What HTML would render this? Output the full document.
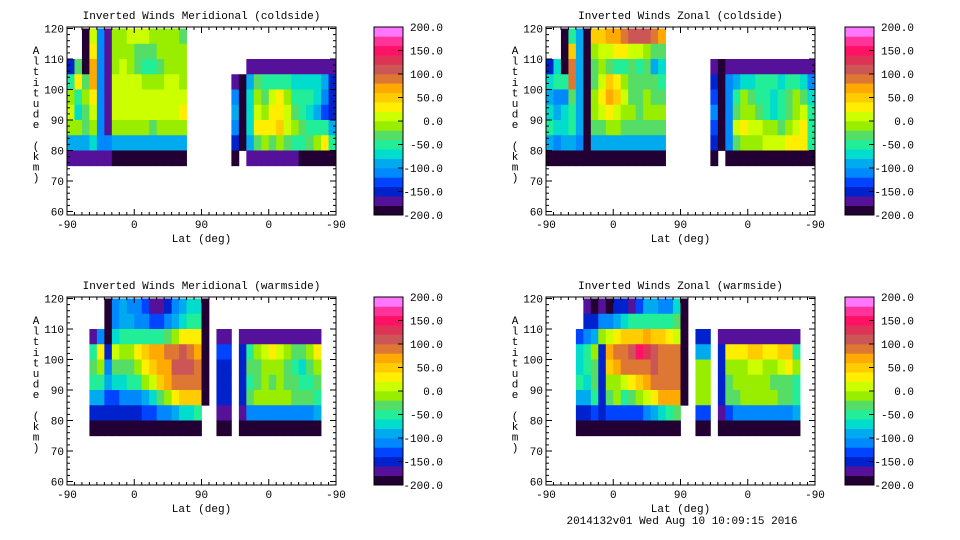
<!DOCTYPE html>
<html><head><meta charset="utf-8">
<style>
html,body{margin:0;padding:0;background:#fff;}
svg{display:block;font-family:"Liberation Mono","DejaVu Sans Mono",monospace;}
</style></head>
<body>
<svg id="fig" width="960" height="540" viewBox="0 0 960 540" xmlns="http://www.w3.org/2000/svg">
<rect width="960" height="540" fill="#fff"/>
<text x="682" y="524" font-size="11" text-anchor="middle" fill="#000">2014132v01 Wed Aug 10 10:09:15 2016</text>
</svg>
<script>
const _ = null;
// colorbar band colors from -200 (index 0) to 200 (index 19)
const bandColors = ["#220033","#551199","#0022cc","#0044ff","#0088ff","#00aaee","#00ddcc","#22ee99","#55dd66","#99ee00","#ccff00","#ffee00","#ffcc00","#ffaa00","#dd7733","#cc5555","#dd3355","#ff1166","#ff3399","#ff77ff"];
const cbLabels = ["200.0","150.0","100.0","50.0","0.0","-50.0","-100.0","-150.0","-200.0"];
const cbValues = [200,150,100,50,0,-50,-100,-150,-200];
const latTicks = ["-90","0","90","0","-90"];
const latTickPos = [0,90,180,270,360];
const altTicks = [120,110,100,90,80,70,60];
const rowAlt = [120,115,110,105,100,95,90,85,80]; // top edge of each 5-km row
const panelTitles = ["Inverted Winds Meridional (coldside)","Inverted Winds Zonal (coldside)","Inverted Winds Meridional (warmside)","Inverted Winds Zonal (warmside)"];

const merCold = [
[_,_,-190,10,-110,-170,-20,-10,0,0,0,-10,-20,-20,-10,-30, _,_,_,_,_,_,_,_, _,_,_,_,_,_,_,_,_,_,_,_],
[_,_,-190,30,-110,-170,-20,-20,-10,-30,-40,-40,-20,-10,-10,-20, _,_,_,_,_,_,_,_, _,_,_,_,_,_,_,_,_,_,_,_],
[-150,-40,-190,60,-110,-170,-10,0,-10,-30,-60,-60,-30,-20,-10,-20, _,_,_,_,_,_,_,_, -170,-170,-170,-170,-170,-170,-170,-170,-170,-170,-170,-170],
[-60,20,-40,60,-110,-170,0,0,10,0,-10,-20,-10,0,0,-20, _,_,_,_,_,_,-180,-200, -90,-40,-60,-50,-50,-60,-80,-80,-70,-80,-100,-150],
[-20,-60,-20,20,-110,-170,0,10,10,10,10,10,10,10,10,0, _,_,_,_,_,_,-120,-200, -80,-10,-30,10,30,-10,-50,-60,-60,-80,-120,-150],
[10,-70,-40,0,-110,-170,0,0,0,10,0,10,0,0,0,20, _,_,_,_,_,_,-100,-200, -70,0,-10,20,20,0,-30,-60,-80,-100,-130,-150],
[-10,-20,-40,-20,-110,-170,-20,-20,-20,-20,-20,-30,-20,-20,-20,-20, _,_,_,_,_,_,-110,-200, -70,20,30,30,40,10,-20,-40,-60,-50,-60,-100],
[-90,-90,-90,-80,-110,-120,-100,-100,-100,-100,-100,-100,-100,-100,-100,-100, _,_,_,_,_,_,-150,-200, -100,-30,-20,-40,-20,-30,-50,-50,-40,-10,30,-60],
[-180,-180,-180,-180,-180,-180,-190,-190,-190,-190,-190,-190,-190,-190,-190,-190, _,_,_,_,_,_,-190,_, -180,-180,-180,-180,-180,-180,-180,-190,-190,-190,-190,-190]
];
const zonCold = [
[_,_,-200,-50,-100,-200,40,50,60,70,80,100,110,100,80,60, _,_,_,_,_,_,_,_, _,_,_,_,_,_,_,_,_,_,_,_],
[_,_,-200,40,-100,-200,-20,0,10,20,20,10,0,-20,-40,-30, _,_,_,_,_,_,_,_, _,_,_,_,_,_,_,_,_,_,_,_],
[-150,-70,-200,80,-100,-200,-40,-20,-30,-60,-60,-40,-60,-40,-90,-70, _,_,_,_,_,_,-170,-200, -170,-170,-170,-170,-170,-170,-170,-170,-170,-170,-170,-170],
[-80,-50,-60,90,-100,-200,-30,10,40,20,-20,-30,-40,-30,-40,-60, _,_,_,_,_,_,-150,-200, -120,-90,-80,-70,-60,-50,-60,-70,-50,-50,-70,-120],
[-100,-120,-110,-40,-100,-200,-20,20,60,40,0,-30,-40,-20,-30,-30, _,_,_,_,_,_,-130,-200, -110,-60,-20,-30,-50,-60,-70,-50,-30,-20,-30,-80],
[-70,-100,-80,-60,-100,-200,-20,0,20,10,-10,-20,-40,-20,-20,-20, _,_,_,_,_,_,-110,-200, -110,-40,-20,-10,-30,-50,-70,-60,-40,-20,10,-60],
[-60,-70,-70,-60,-100,-200,-40,-30,-20,-20,-30,-30,-30,-30,-30,-30, _,_,_,_,_,_,-130,-200, -110,10,20,10,0,-10,-20,-30,-10,10,30,-50],
[-100,-110,-100,-100,-110,-200,-100,-100,-100,-100,-100,-100,-100,-100,-100,-100, _,_,_,_,_,_,-160,-200, -120,-30,-20,-20,-10,0,0,10,20,30,20,-60],
[-190,-190,-190,-190,-190,-190,-190,-190,-190,-190,-190,-190,-190,-190,-190,-190, _,_,_,_,_,_,-190,_, -190,-190,-190,-190,-190,-190,-190,-190,-190,-190,-190,-190]
];
const merWarm = [
[_,_,_,_,_,-200,-110,-100,-110,-110,-130,-170,-180,-150,-120,-100,-80,-80,-200, _,_,_,_, _,_,_,_,_,_,_,_,_,_,_, _,_],
[_,_,_,_,_,-200,-110,-90,-100,-110,-120,-130,-140,-120,-100,-80,-60,-60,-200, _,_,_,_, _,_,_,_,_,_,_,_,_,_,_, _,_],
[_,_,_,-170,-120,-200,-80,-60,-50,-60,-60,-60,-50,-30,-10,20,30,30,-200, _,-180,-180,_, -180,-180,-180,-180,-180,-180,-180,-180,-180,-180,-180, _,_],
[_,_,_,-50,20,-150,0,-10,-10,20,40,60,70,80,90,100,80,60,-200, _,-140,-140,_, -150,-50,-10,0,20,10,-10,-30,-40,-20,20, _,_],
[_,_,_,-40,-10,-120,-40,-30,-40,-10,20,40,60,70,100,110,100,90,-200, _,-150,-150,_, -150,-30,-40,-20,-10,-20,-30,-60,-70,-40,-10, _,_],
[_,_,_,-60,-60,-100,-80,-70,-60,-50,-20,10,40,60,80,90,90,80,-200, _,-150,-150,_, -150,-50,-40,-20,-30,-20,-30,-40,-60,-50,-30, _,_],
[_,_,_,-100,-100,-130,-130,-120,-110,-120,-100,-80,-40,-10,20,50,50,40,-200, _,-150,-150,_, -150,-30,-20,-10,-10,-10,-20,-30,-30,-40,-60, _,_],
[_,_,_,-150,-150,-160,-150,-150,-150,-150,-140,-130,-120,-110,-100,-80,-70,-60,_, _,-170,-170,_, -170,-120,-110,-110,-110,-110,-110,-110,-110,-110,-90, _,_],
[_,_,_,-200,-190,-200,-190,-190,-190,-190,-190,-190,-190,-190,-190,-190,-190,-190,_, _,-190,-190,_, -200,-190,-190,-190,-190,-190,-190,-190,-190,-190,-190, _,_]
];
const zonWarm = [
[_,_,_,_,_,-180,-190,-180,-190,-150,-160,-180,-130,-100,-90,-120,-110,-80,-200, _,_,_,_, _,_,_,_,_,_,_,_,_,_,_, _,_],
[_,_,_,_,_,-150,-160,-120,-110,-100,-80,-60,-50,-50,-60,-60,-50,-40,-200, _,_,_,_, _,_,_,_,_,_,_,_,_,_,_, _,_],
[_,_,_,_,-140,-120,-100,-20,0,20,40,40,40,60,50,40,30,10,-200, _,-150,-150,_, -180,-180,-180,-180,-180,-180,-180,-180,-180,-180,-180, _,_],
[_,_,_,_,-80,-50,-10,-150,70,80,90,110,140,120,100,90,90,90,-200, _,-100,-100,_, -160,20,30,30,40,40,30,30,40,50,-60, _,_],
[_,_,_,_,-70,-60,-40,-150,50,70,80,80,80,90,100,90,80,80,-200, _,-10,-10,_, -160,-10,-10,-10,10,10,-10,-20,10,30,-20, _,_],
[_,_,_,_,-60,-70,-40,-150,-20,-10,0,30,50,70,80,80,90,80,-200, _,-20,-20,_, -160,-30,-20,-10,-10,-10,-20,-40,-30,-40,-60, _,_],
[_,_,_,_,-90,-90,-60,-150,-40,-20,-50,-30,-20,0,30,60,60,70,-200, _,-20,-20,_, -160,-40,-30,-10,-10,-10,-10,-20,-40,-40,-50, _,_],
[_,_,_,_,-150,-150,-140,-160,-140,-130,-130,-130,-130,-120,-100,-80,-60,-40,_, _,-130,-130,_, -170,-130,-120,-120,-120,-120,-120,-120,-120,-110,-100, _,_],
[_,_,_,_,-190,-190,-190,-190,-190,-190,-190,-190,-190,-190,-190,-190,-190,-190,_, _,-190,-190,_, -200,-200,-200,-200,-200,-200,-200,-200,-200,-200,-200, _,_]
];
const grids = [merCold, zonCold, merWarm, zonWarm];
const yTitle = "Altitude (km)";

const NS = "http://www.w3.org/2000/svg";
const svg = document.getElementById("fig");
function mk(tag, attrs, parent){
  const e = document.createElementNS(NS, tag);
  for (const k in attrs) e.setAttribute(k, attrs[k]);
  (parent||svg).appendChild(e);
  return e;
}
function band(v){ let i = Math.floor((v+200)/20); return Math.max(0, Math.min(19, i)); }

const panels = [
  {x0:67, y0:27, cbx:374, title:panelTitles[0]},
  {x0:546, y0:27, cbx:845, title:panelTitles[1]},
  {x0:67, y0:297, cbx:374, title:panelTitles[2]},
  {x0:546, y0:297, cbx:845, title:panelTitles[3]}
];
const PW = 269, PH = 188;

panels.forEach((p, pi) => {
  const xScale = d => p.x0 + d * PW / 360;
  const yScale = a => p.y0 + 1.5 + (120 - a) * 3.05;
  const g = mk("g", {});
  
  

  const grid = grids[pi];
  grid.forEach((row, ri) => {
    row.forEach((v, ci) => {
      if (v === null) return;
      const x1 = xScale(ci*10), x2 = xScale(ci*10+10);
      const yt = yScale(rowAlt[ri]), yb = yScale(rowAlt[ri]-5);
      const r = mk("rect", {x:x1, y:yt, width:(x2-x1)+0.4, height:(yb-yt)+0.4, fill:bandColors[band(v)]}, g);
      
      
    });
  });

  const fr = mk("rect", {x:p.x0, y:p.y0, width:PW, height:PH, fill:"none", stroke:"#000", "stroke-width":1});
  
  

  for (let a = 60; a <= 120; a += 2) {
    const y = yScale(a);
    const len = (a % 10 === 0) ? 6 : 3;
    mk("line", {x1:p.x0, y1:y, x2:p.x0+len, y2:y, stroke:"#000"});
    mk("line", {x1:p.x0+PW, y1:y, x2:p.x0+PW-len, y2:y, stroke:"#000"});
  }
  for (let d = 0; d <= 360; d += 10) {
    const x = xScale(d);
    const len = (d % 90 === 0) ? 6 : 3;
    mk("line", {x1:x, y1:p.y0+PH, x2:x, y2:p.y0+PH-len, stroke:"#000"});
    mk("line", {x1:x, y1:p.y0, x2:x, y2:p.y0+len, stroke:"#000"});
  }
  altTicks.forEach(a => {
    const t = mk("text", {x:p.x0-3, y:yScale(a)+4, "font-size":11, "text-anchor":"end", fill:"#000"});
    t.textContent = a;
    
    
  });
  latTicks.forEach((lab, i) => {
    const t = mk("text", {x:xScale(latTickPos[i]), y:p.y0+PH+13, "font-size":11, "text-anchor":"middle", fill:"#000"});
    t.textContent = lab;
    
    
  });
  const tt = mk("text", {x:p.x0+PW/2, y:p.y0-8, "font-size":11, "text-anchor":"middle", fill:"#000"});
  tt.textContent = p.title;
  
  
  const xt = mk("text", {x:p.x0+PW/2, y:p.y0+PH+27, "font-size":11, "text-anchor":"middle", fill:"#000"});
  xt.textContent = "Lat (deg)";
  
  
  const yt = mk("text", {"font-size":11, "text-anchor":"middle", fill:"#000"});
  
  
  yTitle.split("").forEach((ch, i) => {
    const s = mk("tspan", {x:p.x0-31, y:p.y0+27 + i*10.6}, yt);
    s.textContent = ch === " " ? "\u00a0" : ch;
  });

  const cb = mk("g", {});
  
  
  const cbw = 29, bh = PH/20;
  bandColors.forEach((c, i) => {
    const r = mk("rect", {x:p.cbx, y:p.y0 + PH - (i+1)*bh, width:cbw, height:bh+0.3, fill:c}, cb);
    
    
  });
  mk("rect", {x:p.cbx, y:p.y0, width:cbw, height:PH, fill:"none", stroke:"#000"}, cb);
  const cbY = v => p.y0 + (200 - v) / 400 * PH;
  cbLabels.forEach((lab, i) => {
    const y = cbY(cbValues[i]);
    mk("line", {x1:p.cbx+cbw-5, y1:y, x2:p.cbx+cbw, y2:y, stroke:"#000"}, cb);
    const t = mk("text", {x:p.cbx+69, y:y+4, "font-size":11, "text-anchor":"end", fill:"#000"}, cb);
    t.textContent = lab;
    
    
  });
});
</script>
</body></html>
